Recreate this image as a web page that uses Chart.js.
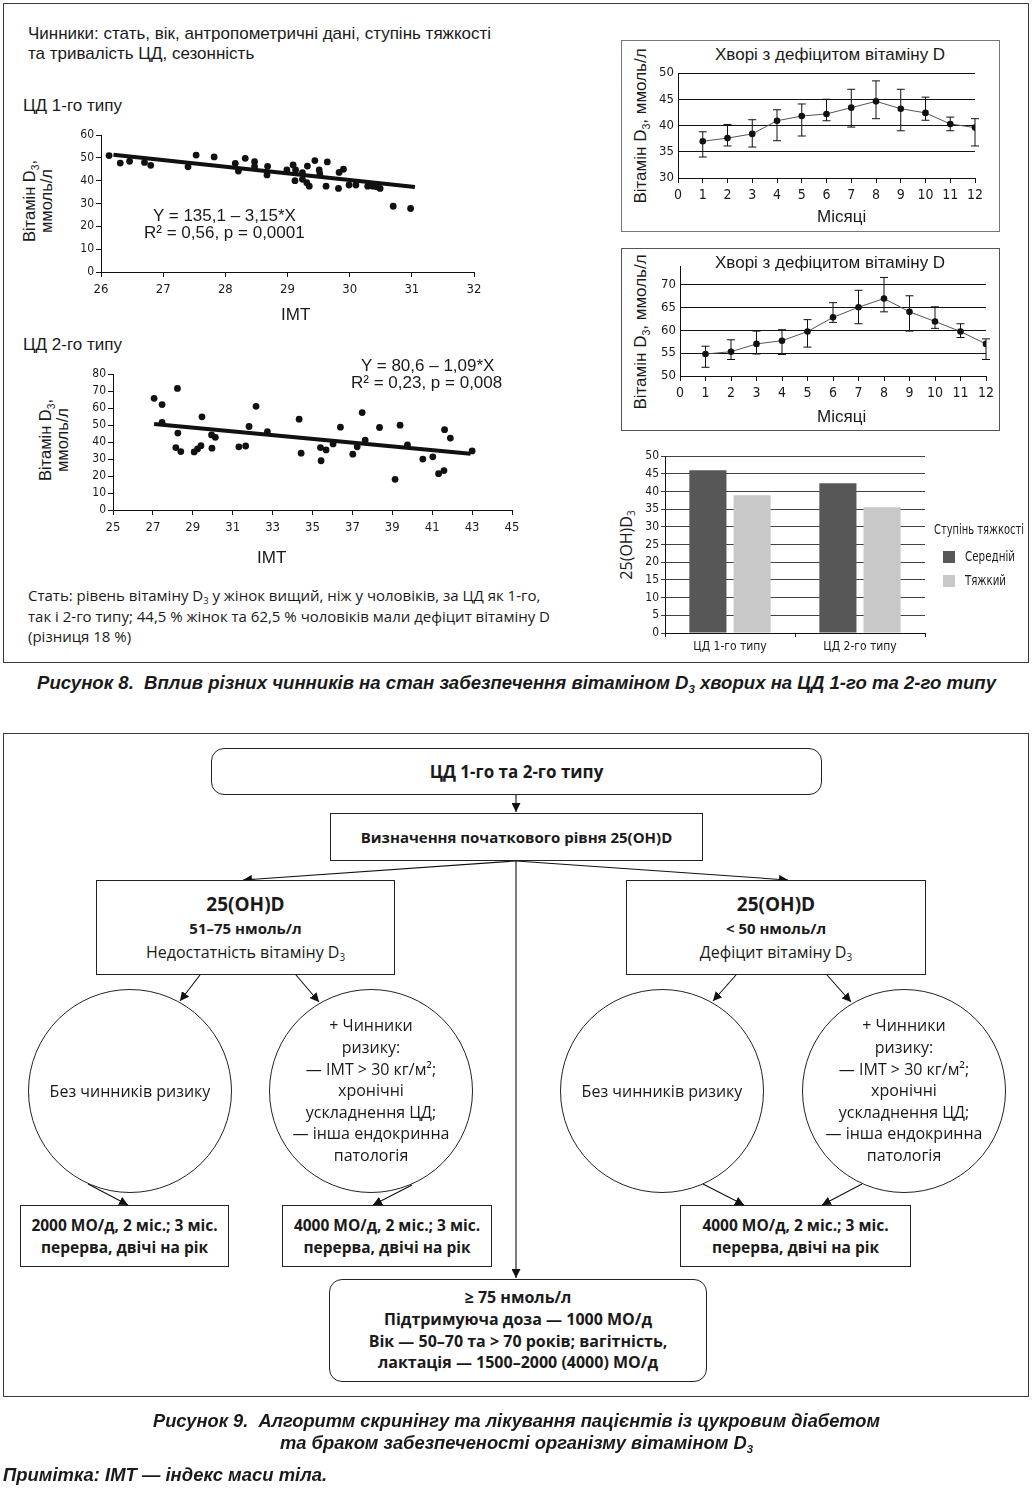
<!DOCTYPE html>
<html lang="uk">
<head>
<meta charset="utf-8">
<script src="https://cdn.jsdelivr.net/npm/chart.js@4.4.1/dist/chart.umd.min.js"></script>
<style>
  body { margin: 0; width: 1034px; height: 1490px; position: relative; background: #fff; color: #1a1a1a;
         font-family: "Liberation Sans", Arial, sans-serif; overflow: hidden; }
  .a { position: absolute; white-space: nowrap; }
  .frame { position: absolute; border: 1.3px solid #3a3a3a; box-sizing: border-box; }
  .cw { position: absolute; }
  .rot { position: absolute; white-space: nowrap; transform: translate(-50%, -50%) rotate(-90deg); text-align: center; }
  .myr { font-family: "Open Sans", "Noto Sans", sans-serif; }
  .narrow { font-family: "Liberation Sans Narrow", "DejaVu Sans Condensed", "Roboto", sans-serif; }
  .box { position: absolute; box-sizing: border-box; border: 1.3px solid #222; background: #fff;
         display: flex; flex-direction: column; justify-content: center; align-items: center; text-align: center;
         font-family: "Open Sans", "Noto Sans", sans-serif; }
  .circle { border-radius: 50%; border: 1.2px solid #222; }
  sub { font-size: 62%; line-height: 0; vertical-align: -0.35em; }
  .cap { font-family: "Liberation Sans", sans-serif; font-weight: bold; font-style: italic; font-size: 18px; }
</style>
</head>
<body>

<!-- ===== Рисунок 8 ===== -->
<div class="frame" style="left:3px;top:3px;width:1026px;height:660px"></div>

<div class="a" style="left:28px;top:24px;font-size:17px;line-height:20px">Чинники: стать, вік, антропометричні дані, ступінь тяжкості<br>та тривалість ЦД, сезонність</div>

<div class="a" style="left:23px;top:96px;font-size:17px">ЦД 1-го типу</div>
<div class="rot" style="left:38px;top:201px;font-size:16.5px;line-height:17px">Вітамін D<sub>3</sub>,<br>ммоль/л</div>
<div class="cw" style="left:60px;top:125px;width:430px;height:205px"><canvas id="sc1"></canvas></div>
<div class="a" style="left:153px;top:206px;font-size:17px">Y = 135,1 – 3,15*X</div>
<div class="a" style="left:144px;top:223px;font-size:17px">R² = 0,56, p = 0,0001</div>
<div class="a" style="left:281px;top:305px;font-size:17px">IMT</div>

<div class="a" style="left:23px;top:335px;font-size:17px">ЦД 2-го типу</div>
<div class="rot" style="left:54px;top:440px;font-size:16.5px;line-height:17px">Вітамін D<sub>3</sub>,<br>ммоль/л</div>
<div class="cw" style="left:70px;top:365px;width:455px;height:210px"><canvas id="sc2"></canvas></div>
<div class="a" style="left:361px;top:356px;font-size:17px">Y = 80,6 – 1,09*X</div>
<div class="a" style="left:351px;top:373px;font-size:17px">R² = 0,23, p = 0,008</div>
<div class="a" style="left:257px;top:548px;font-size:17px">IMT</div>

<div class="a myr" style="left:28px;top:585px;font-size:15px;line-height:20.5px">Стать: рівень вітаміну D<sub>3</sub> у жінок вищий, ніж у чоловіків, за ЦД як 1-го,<br>так і 2-го типу; 44,5 % жінок та 62,5 % чоловіків мали дефіцит вітаміну D<br>(різниця 18 %)</div>

<!-- line charts -->
<div class="frame" style="left:621px;top:40px;width:379px;height:192px;border-color:#777;border-width:1px"></div>
<div class="a" style="left:715px;top:45px;font-size:17px">Хворі з дефіцитом вітаміну D</div>
<div class="rot" style="left:641px;top:126px;font-size:17px">Вітамін D<sub>3</sub>, ммоль/л</div>
<div class="cw" style="left:622px;top:41px;width:377px;height:190px"><canvas id="ln1"></canvas></div>
<div class="a" style="left:817px;top:207px;font-size:17px">Місяці</div>

<div class="frame" style="left:621px;top:248px;width:379px;height:183px;border-color:#555;border-width:1px"></div>
<div class="a" style="left:715px;top:253px;font-size:17px">Хворі з дефіцитом вітаміну D</div>
<div class="rot" style="left:641px;top:332px;font-size:17px">Вітамін D<sub>3</sub>, ммоль/л</div>
<div class="cw" style="left:622px;top:249px;width:377px;height:181px"><canvas id="ln2"></canvas></div>
<div class="a" style="left:817px;top:407px;font-size:17px">Місяці</div>

<!-- bar chart -->
<div class="rot myr" style="left:626px;top:545px;font-size:16px">25(OH)D<sub>3</sub></div>
<div class="cw" style="left:615px;top:445px;width:320px;height:215px"><canvas id="bar"></canvas></div>
<div class="a narrow" data-w="90" style="left:934px;top:521px;font-size:14px">Ступінь тяжкості</div>
<div class="a" id="lg1" style="left:943px;top:551px;width:12px;height:12px"></div>
<div class="a narrow" data-w="50" style="left:965px;top:548px;font-size:14px">Середній</div>
<div class="a" id="lg2" style="left:943px;top:575px;width:12px;height:12px"></div>
<div class="a narrow" data-w="41" style="left:965px;top:572px;font-size:14px">Тяжкий</div>

<div class="a cap" data-w="959" style="left:37px;top:673px">Рисунок 8.&nbsp; Вплив різних чинників на стан забезпечення вітаміном D<sub>3</sub> хворих на ЦД 1-го та 2-го типу</div>

<!-- ===== Рисунок 9 ===== -->
<div class="frame" style="left:3px;top:733px;width:1026px;height:664px"></div>

<svg class="a" style="left:0;top:0" width="1034" height="1490">
  <defs>
    <marker id="ah" viewBox="0 0 10 10" refX="10" refY="5" markerWidth="9" markerHeight="9" markerUnits="userSpaceOnUse" orient="auto">
      <path d="M0,0 L10,5 L0,10 z" fill="#111"/>
    </marker>
  </defs>
  <g stroke="#111" stroke-width="1.1" fill="none" marker-end="url(#ah)">
    <line x1="516" y1="795" x2="516" y2="812"/>
    <line x1="516" y1="861" x2="243" y2="880"/>
    <line x1="516" y1="861" x2="788" y2="880"/>
    <line x1="516" y1="861" x2="516" y2="1278"/>
    <line x1="200" y1="975" x2="180" y2="1001"/>
    <line x1="296" y1="975" x2="319" y2="1002"/>
    <line x1="736" y1="975" x2="713" y2="1001"/>
    <line x1="827" y1="975" x2="851" y2="1002"/>
    <line x1="88" y1="1184" x2="128" y2="1205"/>
    <line x1="412" y1="1185" x2="373" y2="1205"/>
    <line x1="703" y1="1184" x2="744" y2="1205"/>
    <line x1="862" y1="1184" x2="822" y2="1205"/>
  </g>
</svg>

<div class="box" style="left:211px;top:748px;width:611px;height:47px;border-radius:13px;font-weight:bold;font-size:17px">ЦД 1-го та 2-го типу</div>
<div class="box" style="left:330px;top:813px;width:373px;height:48px;font-weight:bold;font-size:15px">Визначення початкового рівня 25(OH)D</div>

<div class="box" style="left:96px;top:880px;width:299px;height:95px;line-height:24px">
  <div style="font-weight:bold;font-size:19px">25(OH)D</div>
  <div style="font-weight:bold;font-size:15px">51–75 нмоль/л</div>
  <div style="font-size:16px">Недостатність вітаміну D<sub>3</sub></div>
</div>
<div class="box" style="left:626px;top:880px;width:300px;height:95px;line-height:24px">
  <div style="font-weight:bold;font-size:19px">25(OH)D</div>
  <div style="font-weight:bold;font-size:15px">&lt; 50 нмоль/л</div>
  <div style="font-size:16px">Дефіцит вітаміну D<sub>3</sub></div>
</div>

<div class="box circle" style="left:28px;top:989px;width:204px;height:204px;font-size:16px">Без чинників ризику</div>
<div class="box circle" style="left:269px;top:989px;width:204px;height:204px;font-size:16px;line-height:21.6px">+ Чинники<br>ризику:<br>— IMT &gt; 30 кг/м²;<br>хронічні<br>ускладнення ЦД;<br>— інша ендокринна<br>патологія</div>
<div class="box circle" style="left:560px;top:989px;width:204px;height:204px;font-size:16px">Без чинників ризику</div>
<div class="box circle" style="left:802px;top:989px;width:204px;height:204px;font-size:16px;line-height:21.6px">+ Чинники<br>ризику:<br>— IMT &gt; 30 кг/м²;<br>хронічні<br>ускладнення ЦД;<br>— інша ендокринна<br>патологія</div>

<div class="box" style="left:20px;top:1205px;width:209px;height:62px;font-weight:bold;font-size:15.5px;line-height:22px">2000 МО/д, 2 міс.; 3 міс.<br>перерва, двічі на рік</div>
<div class="box" style="left:282px;top:1205px;width:210px;height:62px;font-weight:bold;font-size:15.5px;line-height:22px">4000 МО/д, 2 міс.; 3 міс.<br>перерва, двічі на рік</div>
<div class="box" style="left:680px;top:1205px;width:231px;height:62px;font-weight:bold;font-size:15.5px;line-height:22px">4000 МО/д, 2 міс.; 3 міс.<br>перерва, двічі на рік</div>

<div class="box narrow" style="left:329px;top:1279px;width:378px;height:103px;border-radius:13px;font-weight:bold;font-size:16px;line-height:21.7px">≥ 75 нмоль/л<br>Підтримуюча доза — 1000 МО/д<br>Вік — 50–70 та &gt; 70 років; вагітність,<br>лактація — 1500–2000 (4000) МО/д</div>

<div class="a cap" data-w="727" style="left:153px;top:1411px">Рисунок 9.&nbsp; Алгоритм скринінгу та лікування пацієнтів із цукровим діабетом</div>
<div class="a cap" data-w="473" style="left:280px;top:1433px">та браком забезпеченості організму вітаміном D<sub>3</sub></div>
<div class="a cap" data-w="324" style="left:3px;top:1465px">Примітка: IMT — індекс маси тіла.</div>

<script>
// --- дані: ЦД 1-го типу (IMT / вітамін D3)
const imt1 = [26.13, 26.31, 26.46, 26.70, 26.80, 27.40, 27.53, 27.82, 28.16, 28.21, 28.32, 28.47, 28.47, 28.68,
  28.67, 28.99, 29.09, 29.13, 29.12, 29.24, 29.24, 29.31, 29.35, 29.32, 29.44, 29.51, 29.52, 29.62, 29.64,
  29.82, 29.83, 29.90, 29.99, 30.10, 30.29, 30.37, 30.43, 30.49, 30.70, 30.98];
const vitD1 = [51.0, 47.7, 48.5, 48.0, 46.7, 46.1, 51.2, 50.4, 47.6, 44.2, 49.8, 48.3, 46.1, 46.3,
  42.5, 44.7, 46.9, 44.7, 40.0, 43.5, 40.6, 39.1, 37.6, 46.4, 48.8, 44.7, 42.9, 37.6, 48.2,
  36.6, 43.6, 45.0, 38.1, 38.1, 37.6, 37.6, 37.3, 36.6, 28.8, 27.8];
const trend1X = [26.2, 31.05];
const trend1Y = [51.4, 37.2];

// --- дані: ЦД 2-го типу
const imt2 = [27.06, 27.46, 27.46, 28.23, 28.25, 28.15, 28.40, 29.07, 29.24, 29.41, 29.46, 29.94, 29.96, 30.13,
  31.31, 31.65, 31.82, 32.17, 32.74, 34.33, 34.43, 35.40, 35.43, 35.68, 36.03, 36.40, 37.02, 37.24, 37.49,
  37.64, 38.36, 39.14, 39.39, 39.76, 40.53, 41.03, 41.32, 41.59, 41.62, 41.91, 43.0];
const vitD2 = [65.8, 62.1, 51.6, 71.6, 45.3, 36.8, 34.4, 34.2, 36.0, 37.9, 54.9, 44.2, 36.4, 42.8,
  37.2, 37.7, 49.2, 61.1, 46.1, 53.5, 33.5, 36.8, 29.0, 35.4, 38.9, 48.8, 32.9, 37.2, 57.4,
  41.2, 48.6, 18.1, 50.0, 38.3, 30.0, 31.3, 21.4, 23.2, 47.3, 42.4, 34.8];
const trend2X = [27.06, 42.92];
const trend2Y = [50.6, 33.1];

// --- сезонність (місяці)
const months = [1, 2, 3, 4, 5, 6, 7, 8, 9, 10, 11, 12];
const mean1 = [37.0, 37.6, 38.4, 40.9, 41.8, 42.2, 43.4, 44.6, 43.2, 42.4, 40.3, 39.6];
const hi1   = [38.8, 40.2, 41.1, 43.0, 44.1, 45.0, 46.9, 48.5, 46.9, 45.4, 41.6, 41.3];
const lo1   = [34.0, 36.1, 35.9, 37.1, 38.0, 40.9, 39.7, 41.3, 39.0, 41.0, 39.0, 36.1];
const mean2 = [54.8, 55.3, 57.0, 57.7, 59.7, 62.8, 65.0, 66.9, 64.0, 61.9, 59.7, 57.0];
const hi2   = [56.5, 57.9, 59.8, 60.1, 62.3, 66.0, 68.7, 71.5, 67.5, 65.1, 61.4, 58.1];
const lo2   = [51.9, 53.6, 54.8, 54.7, 56.3, 61.7, 61.4, 64.0, 59.8, 60.4, 58.4, 53.6];

// --- ступінь тяжкості
const groups = ['ЦД 1-го типу', 'ЦД 2-го типу'];
const moderate = [46.0, 42.3];
const severe = [38.9, 35.5];
const colModerate = '#575757';
const colSevere = '#c8c8c8';

Chart.defaults.font.family = '"Liberation Sans Narrow", "DejaVu Sans Condensed", "Liberation Sans", sans-serif';
Chart.defaults.color = '#1a1a1a';
Chart.defaults.animation = false;
Chart.defaults.responsive = true;
Chart.defaults.maintainAspectRatio = false;
Chart.defaults.plugins.legend.display = false;
Chart.defaults.plugins.tooltip.enabled = false;

const pts = (xs, ys) => xs.map((x, i) => ({ x: x, y: ys[i] }));

// вуса похибки
const errorBars = {
  id: 'errorBars',
  beforeDatasetsDraw(chart, args, opts) {
    const { ctx, scales: { x, y } } = chart;
    ctx.save();
    ctx.strokeStyle = '#111';
    ctx.lineWidth = 1;
    months.forEach((m, i) => {
      const px = x.getPixelForValue(m);
      const top = y.getPixelForValue(opts.hi[i]);
      const bot = y.getPixelForValue(opts.lo[i]);
      ctx.beginPath();
      ctx.moveTo(px, top); ctx.lineTo(px, bot);
      ctx.moveTo(px - 4, top); ctx.lineTo(px + 4, top);
      ctx.moveTo(px - 4, bot); ctx.lineTo(px + 4, bot);
      ctx.stroke();
    });
    ctx.restore();
  }
};

function axisX(min, max, step, h, extra) {
  return Object.assign({
    type: 'linear', min: min, max: max,
    ticks: { stepSize: step, autoSkip: false, maxRotation: 0, padding: 5, font: { size: 13 } },
    grid: { drawOnChartArea: false, color: '#111', tickLength: 5 },
    border: { color: '#111' },
    afterFit: s => { s.height = h; }
  }, extra || {});
}
function axisY(min, max, step, w, extra) {
  return Object.assign({
    min: min, max: max,
    ticks: { stepSize: step, autoSkip: false, padding: 2, font: { size: 12 } },
    grid: { drawOnChartArea: false, color: '#111', tickLength: 5 },
    border: { color: '#111' },
    afterFit: s => { s.width = w; }
  }, extra || {});
}

// ЦД 1-го типу
new Chart(document.getElementById('sc1'), {
  type: 'scatter',
  data: {
    datasets: [
      { data: pts(imt1, vitD1), pointRadius: 3.4, backgroundColor: '#111', borderWidth: 0 },
      { type: 'line', data: pts(trend1X, trend1Y), borderColor: '#111', borderWidth: 4, pointRadius: 0 }
    ]
  },
  options: {
    layout: { padding: { top: 10, right: 16 } },
    scales: { x: axisX(26, 32, 1, 58), y: axisY(0, 60, 10, 41) }
  }
});

// ЦД 2-го типу
new Chart(document.getElementById('sc2'), {
  type: 'scatter',
  data: {
    datasets: [
      { data: pts(imt2, vitD2), pointRadius: 3.4, backgroundColor: '#111', borderWidth: 0 },
      { type: 'line', data: pts(trend2X, trend2Y), borderColor: '#111', borderWidth: 4, pointRadius: 0 }
    ]
  },
  options: {
    layout: { padding: { top: 8, right: 13 } },
    scales: { x: axisX(25, 45, 2, 65), y: axisY(0, 80, 10, 43) }
  }
});

// сезонність
function monthChart(id, mean, lo, hi, ymin, ymax, yw, xh, pad) {
  new Chart(document.getElementById(id), {
    type: 'line',
    data: {
      datasets: [{
        data: pts(months, mean), borderColor: '#555', borderWidth: 1,
        pointRadius: 3.3, pointBackgroundColor: '#111', pointBorderWidth: 0
      }]
    },
    options: {
      layout: { padding: pad },
      plugins: { errorBars: { lo: lo, hi: hi } },
      scales: {
        x: axisX(0, 12, 1, xh, { ticks: { stepSize: 1, autoSkip: false, maxRotation: 0, padding: 4, font: { size: 14 } } }),
        y: axisY(ymin, ymax, 5, yw, {
          grid: { drawOnChartArea: true, color: '#111', tickLength: 0 },
          afterBuildTicks: s => { s.ticks = s.ticks.filter(t => t.value % 5 === 0); },
          ticks: { stepSize: 5, autoSkip: false, padding: 4, font: { size: 13 } }
        })
      }
    },
    plugins: [errorBars]
  });
}
monthChart('ln1', mean1, lo1, hi1, 30, 50, 56, 53, { top: 32, right: 24 });
monthChart('ln2', mean2, lo2, hi2, 50, 74, 58, 54, { top: 17, right: 13 });

// ступінь тяжкості
new Chart(document.getElementById('bar'), {
  type: 'bar',
  data: {
    labels: groups,
    datasets: [
      { label: 'Середній', data: moderate, backgroundColor: colModerate, barPercentage: 0.84, categoryPercentage: 0.68 },
      { label: 'Тяжкий', data: severe, backgroundColor: colSevere, barPercentage: 0.84, categoryPercentage: 0.68 }
    ]
  },
  options: {
    layout: { padding: { top: 11, right: 10 } },
    scales: {
      x: {
        ticks: { padding: 3, font: { size: 12 } },
        grid: { drawOnChartArea: false, color: '#111', tickLength: 4 },
        border: { color: '#111' },
        afterFit: s => { s.height = 27; }
      },
      y: {
        min: 0, max: 50,
        ticks: { stepSize: 5, autoSkip: false, padding: 2, font: { size: 12 } },
        grid: { color: '#111', tickLength: 4, lineWidth: 0.8 },
        border: { color: '#111' },
        afterFit: s => { s.width = 50; }
      }
    }
  }
});
document.getElementById('lg1').style.background = colModerate;
document.getElementById('lg2').style.background = colSevere;

// підгонка ширини підписів
document.querySelectorAll('[data-w]').forEach(el => {
  el.style.display = 'inline-block';
  const w = el.getBoundingClientRect().width;
  el.style.transformOrigin = 'left top';
  el.style.transform = 'scaleX(' + (+el.dataset.w / w).toFixed(4) + ')';
});
</script>
</body>
</html>
